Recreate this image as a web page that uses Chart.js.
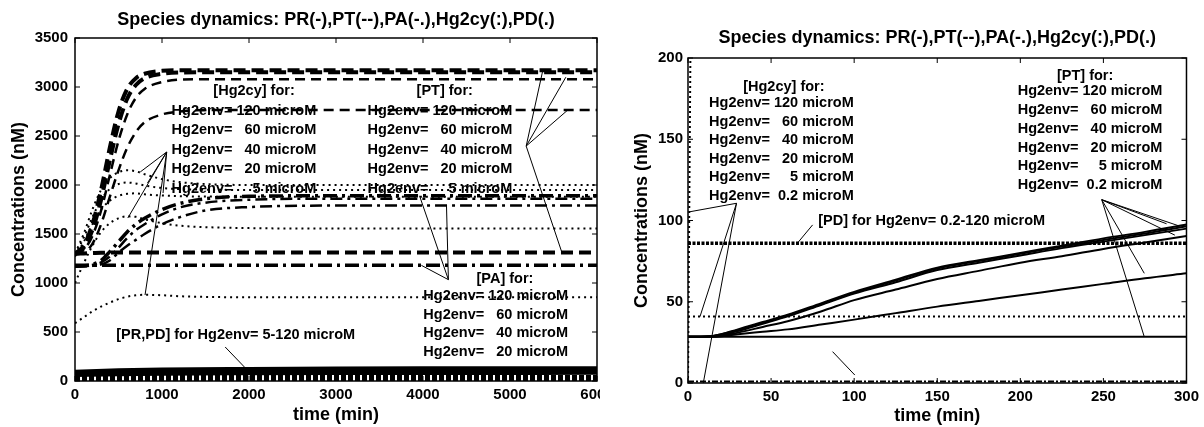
<!DOCTYPE html>
<html>
<head>
<meta charset="utf-8">
<script src="https://cdn.jsdelivr.net/npm/chart.js@4.4.1/dist/chart.umd.min.js"></script>
<style>
    html, body { margin: 0; padding: 0; background: #fff; }
    #wrap { position: relative; width: 1204px; height: 427px; overflow: hidden; }
    #leftBox { position: absolute; left: 0; top: 0; width: 600px; height: 427px; overflow: hidden; }
    #right { position: absolute; left: 600px; top: 0; }
</style>
</head>
<body>
<div id="wrap">
    <div id="leftBox"><canvas id="left" width="625" height="427"></canvas></div>
    <canvas id="right" width="604" height="427"></canvas>
</div>
<script>
// ---- left panel: time (min) and concentrations (nM)
var timeL  = [0, 100, 200, 300, 400, 500, 600, 700, 800, 1000, 1200, 1500, 2000, 3000, 4000, 5000, 6000];
var pt120L = [1300, 1380, 1600, 1950, 2380, 2750, 2980, 3090, 3135, 3165, 3170, 3170, 3170, 3170, 3170, 3170, 3170];
var pt60L  = [1300, 1360, 1540, 1850, 2250, 2620, 2880, 3020, 3090, 3135, 3148, 3150, 3150, 3150, 3150, 3150, 3150];
var pt40L  = [1295, 1340, 1480, 1740, 2100, 2450, 2720, 2890, 2980, 3050, 3075, 3080, 3080, 3080, 3080, 3080, 3080];
var pt20L  = [1290, 1310, 1400, 1600, 1880, 2150, 2380, 2540, 2640, 2720, 2750, 2765, 2765, 2765, 2765, 2765, 2765];
var pt5L   = [1300, 1302, 1305, 1308, 1310, 1310, 1310, 1310, 1310, 1310, 1310, 1310, 1310, 1310, 1310, 1310, 1310];
var hg120L = [1300, 1500, 1750, 1950, 2070, 2130, 2150, 2140, 2110, 2060, 2030, 2010, 2000, 2000, 2000, 2000, 2000];
var hg60L  = [1290, 1460, 1670, 1850, 1960, 2010, 2025, 2015, 1995, 1970, 1958, 1952, 1950, 1950, 1950, 1950, 1950];
var hg40L  = [1270, 1420, 1600, 1750, 1840, 1890, 1910, 1915, 1905, 1893, 1886, 1882, 1880, 1880, 1880, 1880, 1880];
var hg20L  = [1000, 1200, 1380, 1520, 1610, 1660, 1680, 1675, 1650, 1610, 1585, 1570, 1560, 1555, 1555, 1555, 1555];
var hg5L   = [590, 650, 710, 760, 800, 835, 860, 875, 880, 875, 865, 858, 855, 855, 855, 855, 855];
var pa120L = [1170, 1175, 1190, 1230, 1320, 1420, 1520, 1600, 1660, 1750, 1810, 1860, 1885, 1890, 1890, 1890, 1890];
var pa60L  = [1170, 1172, 1185, 1210, 1270, 1360, 1460, 1540, 1600, 1700, 1770, 1820, 1850, 1860, 1860, 1860, 1860];
var pa40L  = [1170, 1170, 1175, 1190, 1230, 1310, 1380, 1440, 1500, 1600, 1670, 1740, 1775, 1790, 1790, 1790, 1790];
var pa20L  = [1180, 1180, 1180, 1180, 1180, 1180, 1180, 1180, 1180, 1180, 1180, 1180, 1180, 1180, 1180, 1180, 1180];

// PR / PD near the bottom of the left panel
var timeLB = [0, 500, 1000, 2000, 3000, 4000, 6000];
var pr120L = [100, 115, 122, 128, 132, 134, 136];
var pr60L  = [90, 105, 112, 118, 121, 123, 125];
var pr40L  = [80, 95, 102, 108, 111, 113, 115];
var pr20L  = [70, 84, 90, 95, 98, 100, 101];
var pr5L   = [55, 65, 70, 74, 76, 77, 78];
var pdHiL  = [45, 45, 45, 45, 45, 45, 45];
var pdMidL = [30, 30, 30, 30, 30, 30, 30];
var pdLoL  = [15, 15, 15, 15, 15, 15, 15];
var pdMinL = [5, 5, 5, 5, 5, 5, 5];

// ---- right panel (first 300 min)
var timeR  = [0, 15, 30, 45, 60, 80, 100, 125, 150, 175, 200, 225, 250, 275, 300];
var pt120R = [28.4, 29, 33, 37.5, 42, 49, 56, 63.5, 71, 75.5, 80, 84.5, 89, 93, 97.5];
var pt60R  = [28.4, 29, 32.5, 37, 41.5, 48.5, 55.5, 63, 70.5, 75, 79.5, 84, 88, 92, 96.5];
var pt40R  = [28.4, 28.8, 32, 36.5, 41, 48, 55, 62, 69.5, 74, 78.5, 83, 87, 91, 95];
var pt20R  = [28.4, 28.6, 31, 34.5, 38, 44, 51, 57.5, 64, 69, 74, 78, 82.5, 86.5, 90.5];
var pt5R   = [28.4, 28.4, 30, 31.5, 33, 36, 39, 43, 47, 50.5, 54, 57.5, 61, 64.5, 67.5];
var pt02R  = [28.4, 28.4, 28.4, 28.4, 28.4, 28.4, 28.4, 28.4, 28.4, 28.4, 28.4, 28.4, 28.4, 28.4, 28.4];
var hg02R  = [41, 41, 41, 41, 41, 41, 41, 41, 41, 41, 41, 41, 41, 41, 41];
var pdR    = [86, 86, 86, 86, 86, 86, 86, 86, 86, 86, 86, 86, 86, 86, 86];
var paR    = [1, 1, 1, 1, 1, 1, 1, 1, 1, 1, 1, 1, 1, 1, 1];
var hgRiseTimeR = [0, 1.5];
var hgRiseR     = [0, 210];

var titleText = 'Species dynamics: PR(-),PT(--),PA(-.),Hg2cy(:),PD(.)';
var rowsL  = ['Hg2env= 120 microM', 'Hg2env=   60 microM', 'Hg2env=   40 microM', 'Hg2env=   20 microM', 'Hg2env=     5 microM'];
var rowsPA = ['Hg2env= 120 microM', 'Hg2env=   60 microM', 'Hg2env=   40 microM', 'Hg2env=   20 microM'];
var rowsR  = ['Hg2env= 120 microM', 'Hg2env=   60 microM', 'Hg2env=   40 microM', 'Hg2env=   20 microM', 'Hg2env=     5 microM', 'Hg2env=  0.2 microM'];

var FONT = '"Liberation Sans", Arial, Helvetica, sans-serif';
Chart.defaults.font.family = FONT;
Chart.defaults.font.weight = 'bold';
Chart.defaults.font.size = 15;
Chart.defaults.color = '#000';

var dashThick = {borderWidth: 4, borderDash: [12, 6]};
var dashThin  = {borderWidth: 2.5, borderDash: [10, 6]};
var dotted    = {borderWidth: 2, borderDash: [2, 4]};
var dashDot   = {borderWidth: 3.5, borderDash: [14, 5, 3, 5]};
var dashDotThin = {borderWidth: 2.5, borderDash: [12, 5, 3, 5]};
var solid     = {borderWidth: 3};
var thinSolid = {borderWidth: 2};

function series(xs, ys, style) {
    var pts = xs.map(function (x, i) { return {x: x, y: ys[i]}; });
    return Object.assign({
        data: pts,
        borderColor: '#000',
        pointRadius: 0,
        fill: false,
        cubicInterpolationMode: 'monotone'
    }, style);
}

// box, inward ticks, titles and the text notes with their pointer lines
function framePlugin(cfg) {
    return {
        id: 'frame',
        afterDraw: function (chart) {
            var ctx = chart.ctx, a = chart.chartArea;
            var sx = chart.scales.x, sy = chart.scales.y;
            function P(p) { return [sx.getPixelForValue(p[0]), sy.getPixelForValue(p[1])]; }
            ctx.save();
            ctx.strokeStyle = '#000';
            ctx.lineWidth = 1.5;
            ctx.setLineDash([]);
            ctx.strokeRect(a.left, a.top, a.right - a.left, a.bottom - a.top);
            ctx.lineWidth = 1;
            ctx.beginPath();
            sx.ticks.forEach(function (t) {
                var x = sx.getPixelForValue(t.value);
                ctx.moveTo(x, a.bottom); ctx.lineTo(x, a.bottom - 5);
                ctx.moveTo(x, a.top); ctx.lineTo(x, a.top + 5);
            });
            sy.ticks.forEach(function (t) {
                var y = sy.getPixelForValue(t.value);
                ctx.moveTo(a.left, y); ctx.lineTo(a.left + 5, y);
                ctx.moveTo(a.right, y); ctx.lineTo(a.right - 5, y);
            });
            ctx.stroke();

            // pointers
            ctx.beginPath();
            cfg.pointers.forEach(function (pt) {
                var o = P(pt.from);
                pt.to.forEach(function (q) {
                    var e = P(q);
                    ctx.moveTo(o[0], o[1]); ctx.lineTo(e[0], e[1]);
                });
            });
            ctx.stroke();

            ctx.fillStyle = '#000';
            ctx.textBaseline = 'middle';
            ctx.font = 'bold 14.5px ' + FONT;
            cfg.blocks.forEach(function (b) {
                var h = P(b.headAt);
                ctx.textAlign = 'center';
                ctx.fillText(b.head, h[0], h[1]);
                var r = P(b.rowsAt);
                ctx.textAlign = 'left';
                b.rows.forEach(function (txt, i) {
                    ctx.fillText(txt, r[0], r[1] + i * b.step);
                });
            });
            cfg.texts.forEach(function (t) {
                var p = P(t.at);
                ctx.textAlign = t.align;
                ctx.fillText(t.text, p[0], p[1]);
            });

            var cx = (a.left + a.right) / 2, cy = (a.top + a.bottom) / 2;
            ctx.textAlign = 'center';
            ctx.font = 'bold 18px ' + FONT;
            ctx.fillText(titleText, cx, cfg.titleY);
            ctx.fillText('time (min)', cx, cfg.xTitleY);
            ctx.translate(cfg.yTitleX, cy);
            ctx.rotate(-Math.PI / 2);
            ctx.fillText('Concentrations (nM)', 0, 0);
            ctx.restore();
        }
    };
}

function makeChart(id, cfg) {
    return new Chart(document.getElementById(id), {
        type: 'line',
        data: {datasets: cfg.datasets},
        options: {
            responsive: false,
            animation: false,
            devicePixelRatio: 1,
            layout: {padding: cfg.padding},
            plugins: {legend: {display: false}, tooltip: {enabled: false}},
            scales: {
                x: {
                    type: 'linear', min: cfg.xMin, max: cfg.xMax,
                    ticks: {stepSize: cfg.xStep, autoSkip: false, maxRotation: 0, padding: 5,
                        callback: function (v) { return String(v); }},
                    grid: {display: false, drawTicks: false}, border: {display: false},
                    afterFit: function (s) { s.height = cfg.xAxisHeight; }
                },
                y: {
                    type: 'linear', min: cfg.yMin, max: cfg.yMax,
                    ticks: {stepSize: cfg.yStep, autoSkip: false, padding: cfg.yPad,
                        callback: function (v) { return String(v); }},
                    grid: {display: false, drawTicks: false}, border: {display: false},
                    afterFit: function (s) { s.width = cfg.yAxisWidth; }
                }
            }
        },
        plugins: [framePlugin(cfg)]
    });
}

var leftChart = makeChart('left', {
    xMin: 0, xMax: 6000, xStep: 1000, yMin: 0, yMax: 3500, yStep: 500,
    padding: {left: 0, top: 38, right: 28, bottom: 0},
    xAxisHeight: 46, yAxisWidth: 75, yPad: 7,
    titleY: 20, xTitleY: 415, yTitleX: 19,
    datasets: [
        series(timeL, pt120L, dashThick), series(timeL, pt60L, dashThick),
        series(timeL, pt40L, dashThin), series(timeL, pt20L, dashThin),
        series(timeL, pt5L, dashThick),
        series(timeL, hg120L, dotted), series(timeL, hg60L, dotted),
        series(timeL, hg40L, dotted), series(timeL, hg20L, dotted), series(timeL, hg5L, dotted),
        series(timeL, pa120L, dashDot), series(timeL, pa60L, dashDotThin),
        series(timeL, pa40L, dashDotThin), series(timeL, pa20L, dashDot),
        series(timeLB, pr120L, solid), series(timeLB, pr60L, solid), series(timeLB, pr40L, solid),
        series(timeLB, pr20L, solid), series(timeLB, pr5L, solid),
        series(timeLB, pdHiL, {borderWidth: 3, borderDash: [5, 2]}),
        series(timeLB, pdMidL, {borderWidth: 3, borderDash: [5, 2]}),
        series(timeLB, pdLoL, {borderWidth: 3, borderDash: [5, 2]}),
        series(timeLB, pdMinL, {borderWidth: 3, borderDash: [5, 2]})
    ],
    blocks: [
        {head: '[Hg2cy] for:', headAt: [2058, 2960], rows: rowsL, rowsAt: [1110, 2760], step: 19.6},
        {head: '[PT] for:', headAt: [4250, 2960], rows: rowsL, rowsAt: [3363, 2760], step: 19.6},
        {head: '[PA] for:', headAt: [4942, 1044], rows: rowsPA, rowsAt: [4004, 864], step: 18.5}
    ],
    texts: [
        {text: '[PR,PD] for Hg2env= 5-120 microM', at: [1847, 465], align: 'center'}
    ],
    pointers: [
        {from: [1054, 2337], to: [[750, 2133], [833, 2020], [1012, 1918], [607, 1663], [805, 877]]},
        {from: [5186, 2397], to: [[5376, 3165], [5642, 3100], [5664, 2765], [5597, 1310]]},
        {from: [4292, 1034], to: [[3960, 1890], [4270, 1790], [3982, 1180]]},
        {from: [1726, 347], to: [[1947, 143]]}
    ]
});

var rightChart = makeChart('right', {
    xMin: 0, xMax: 300, xStep: 50, yMin: 0, yMax: 200, yStep: 50,
    padding: {left: 0, top: 58, right: 15, bottom: 0},
    xAxisHeight: 44, yAxisWidth: 88, yPad: 5,
    titleY: 38, xTitleY: 416, yTitleX: 42,
    datasets: [
        series(timeR, pt120R, thinSolid), series(timeR, pt60R, thinSolid),
        series(timeR, pt40R, thinSolid), series(timeR, pt20R, thinSolid),
        series(timeR, pt5R, thinSolid), series(timeR, pt02R, thinSolid),
        series(timeR, hg02R, {borderWidth: 2, borderDash: [2, 3]}),
        series(timeR, pdR, {borderWidth: 3.5, borderDash: [3, 1.5]}),
        series(timeR, paR, {borderWidth: 2, borderDash: [6, 2, 2, 2]}),
        series(hgRiseTimeR, hgRiseR, {borderWidth: 2, borderDash: [2, 3]})
    ],
    blocks: [
        {head: '[Hg2cy] for:', headAt: [57.7, 182], rows: rowsR, rowsAt: [12.7, 172.3], step: 18.6},
        {head: '[PT] for:', headAt: [239, 189], rows: rowsR, rowsAt: [198.4, 179.8], step: 18.9}
    ],
    texts: [
        {text: '[PD] for Hg2env= 0.2-120 microM', at: [78.4, 100], align: 'left'}
    ],
    pointers: [
        {from: [29.2, 110.6], to: [[1.2, 105.4], [7.2, 40.8], [9.2, 0]]},
        {from: [249, 112.8], to: [[288, 98], [296, 96.5], [293, 91], [274.6, 67.5], [274.6, 28.4]]},
        {from: [75, 97.3], to: [[65.8, 86]]},
        {from: [87, 19.3], to: [[100.4, 4.9]]}
    ]
});
</script>
</body>
</html>
